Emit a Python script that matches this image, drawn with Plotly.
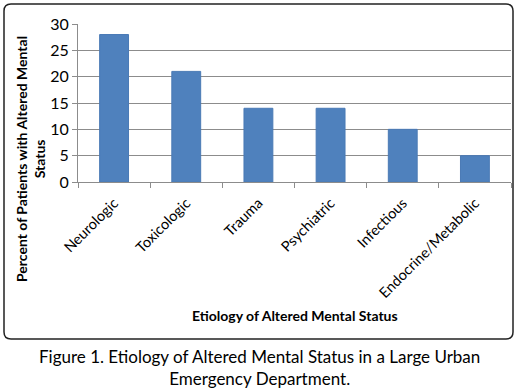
import plotly.graph_objects as go

categories = ["Neurologic", "Toxicologic", "Trauma", "Psychiatric", "Infectious", "Endocrine/Metabolic"]
percents = [28, 21, 14, 14, 10, 5]
y_ticks = [0, 5, 10, 15, 20, 25, 30]

W, H = 523, 389
L, R, T, B = 78, 12, 24, 207
pw = W - L - R
ph = H - T - B

def px(x):
    return (x - L) / pw

def py(y):
    return (H - B - y) / ph

font = "Lato, 'Open Sans', sans-serif"

fig = go.Figure(go.Bar(
    x=categories, y=percents,
    marker=dict(color="#4f81bd", line=dict(color="#4a7ab5", width=1)),
    width=0.4,
))

# rounded box
x0, x1, y0, y1, r = px(4), px(513), py(4), py(339), 7
rx, ry = r / pw, r / ph
path = (f"M {x0+rx},{y0} L {x1-rx},{y0} Q {x1},{y0} {x1},{y0-ry} "
        f"L {x1},{y1+ry} Q {x1},{y1} {x1-rx},{y1} L {x0+rx},{y1} "
        f"Q {x0},{y1} {x0},{y1+ry} L {x0},{y0-ry} Q {x0},{y0} {x0+rx},{y0} Z")

fig.update_layout(
    width=W, height=H,
    margin=dict(l=L, r=R, t=T, b=B, autoexpand=False),
    paper_bgcolor="white", plot_bgcolor="white",
    showlegend=False,
    font=dict(family=font, color="#000000"),
    shapes=[dict(type="path", xref="paper", yref="paper", path=path,
                 line=dict(color="#222222", width=1.5), layer="below")],
    xaxis=dict(
        showline=True, linecolor="#8c8c8c", linewidth=1,
        ticks="outside", tickson="boundaries", ticklen=5, tickcolor="#8c8c8c",
        tickangle=-45, tickfont=dict(size=14.5, family=font, color="#000"),
        ticklabelstandoff=6,
        showgrid=False, automargin=False,
    ),
    yaxis=dict(
        range=[0, 30], tickvals=y_ticks,
        showline=True, linecolor="#8c8c8c", linewidth=1,
        ticks="outside", ticklen=5, tickcolor="#8c8c8c",
        showgrid=True, gridcolor="#8c8c8c", gridwidth=1,
        tickfont=dict(size=16, family=font, color="#000"),
        zeroline=False, automargin=False,
    ),
    annotations=[
        dict(text="<b>Percent of Patients with Altered Mental<br>Status</b>",
             xref="paper", yref="paper", x=px(30), y=py(159), textangle=-90,
             showarrow=False, font=dict(size=14, family=font), xanchor="center", yanchor="middle"),
        dict(text="<b>Etiology of Altered Mental Status</b>",
             xref="paper", yref="paper", x=px(295), y=py(315),
             showarrow=False, font=dict(size=14, family=font), xanchor="center", yanchor="middle"),
        dict(text="Figure 1. Etiology of Altered Mental Status in a Large Urban<br>Emergency Department.",
             xref="paper", yref="paper", x=px(259), y=py(367),
             showarrow=False, font=dict(size=17, family=font), xanchor="center", yanchor="middle"),
    ],
)
fig.write_html("out.html", config={"displayModeBar": False},
               post_script="document.body.style.margin='0';")
